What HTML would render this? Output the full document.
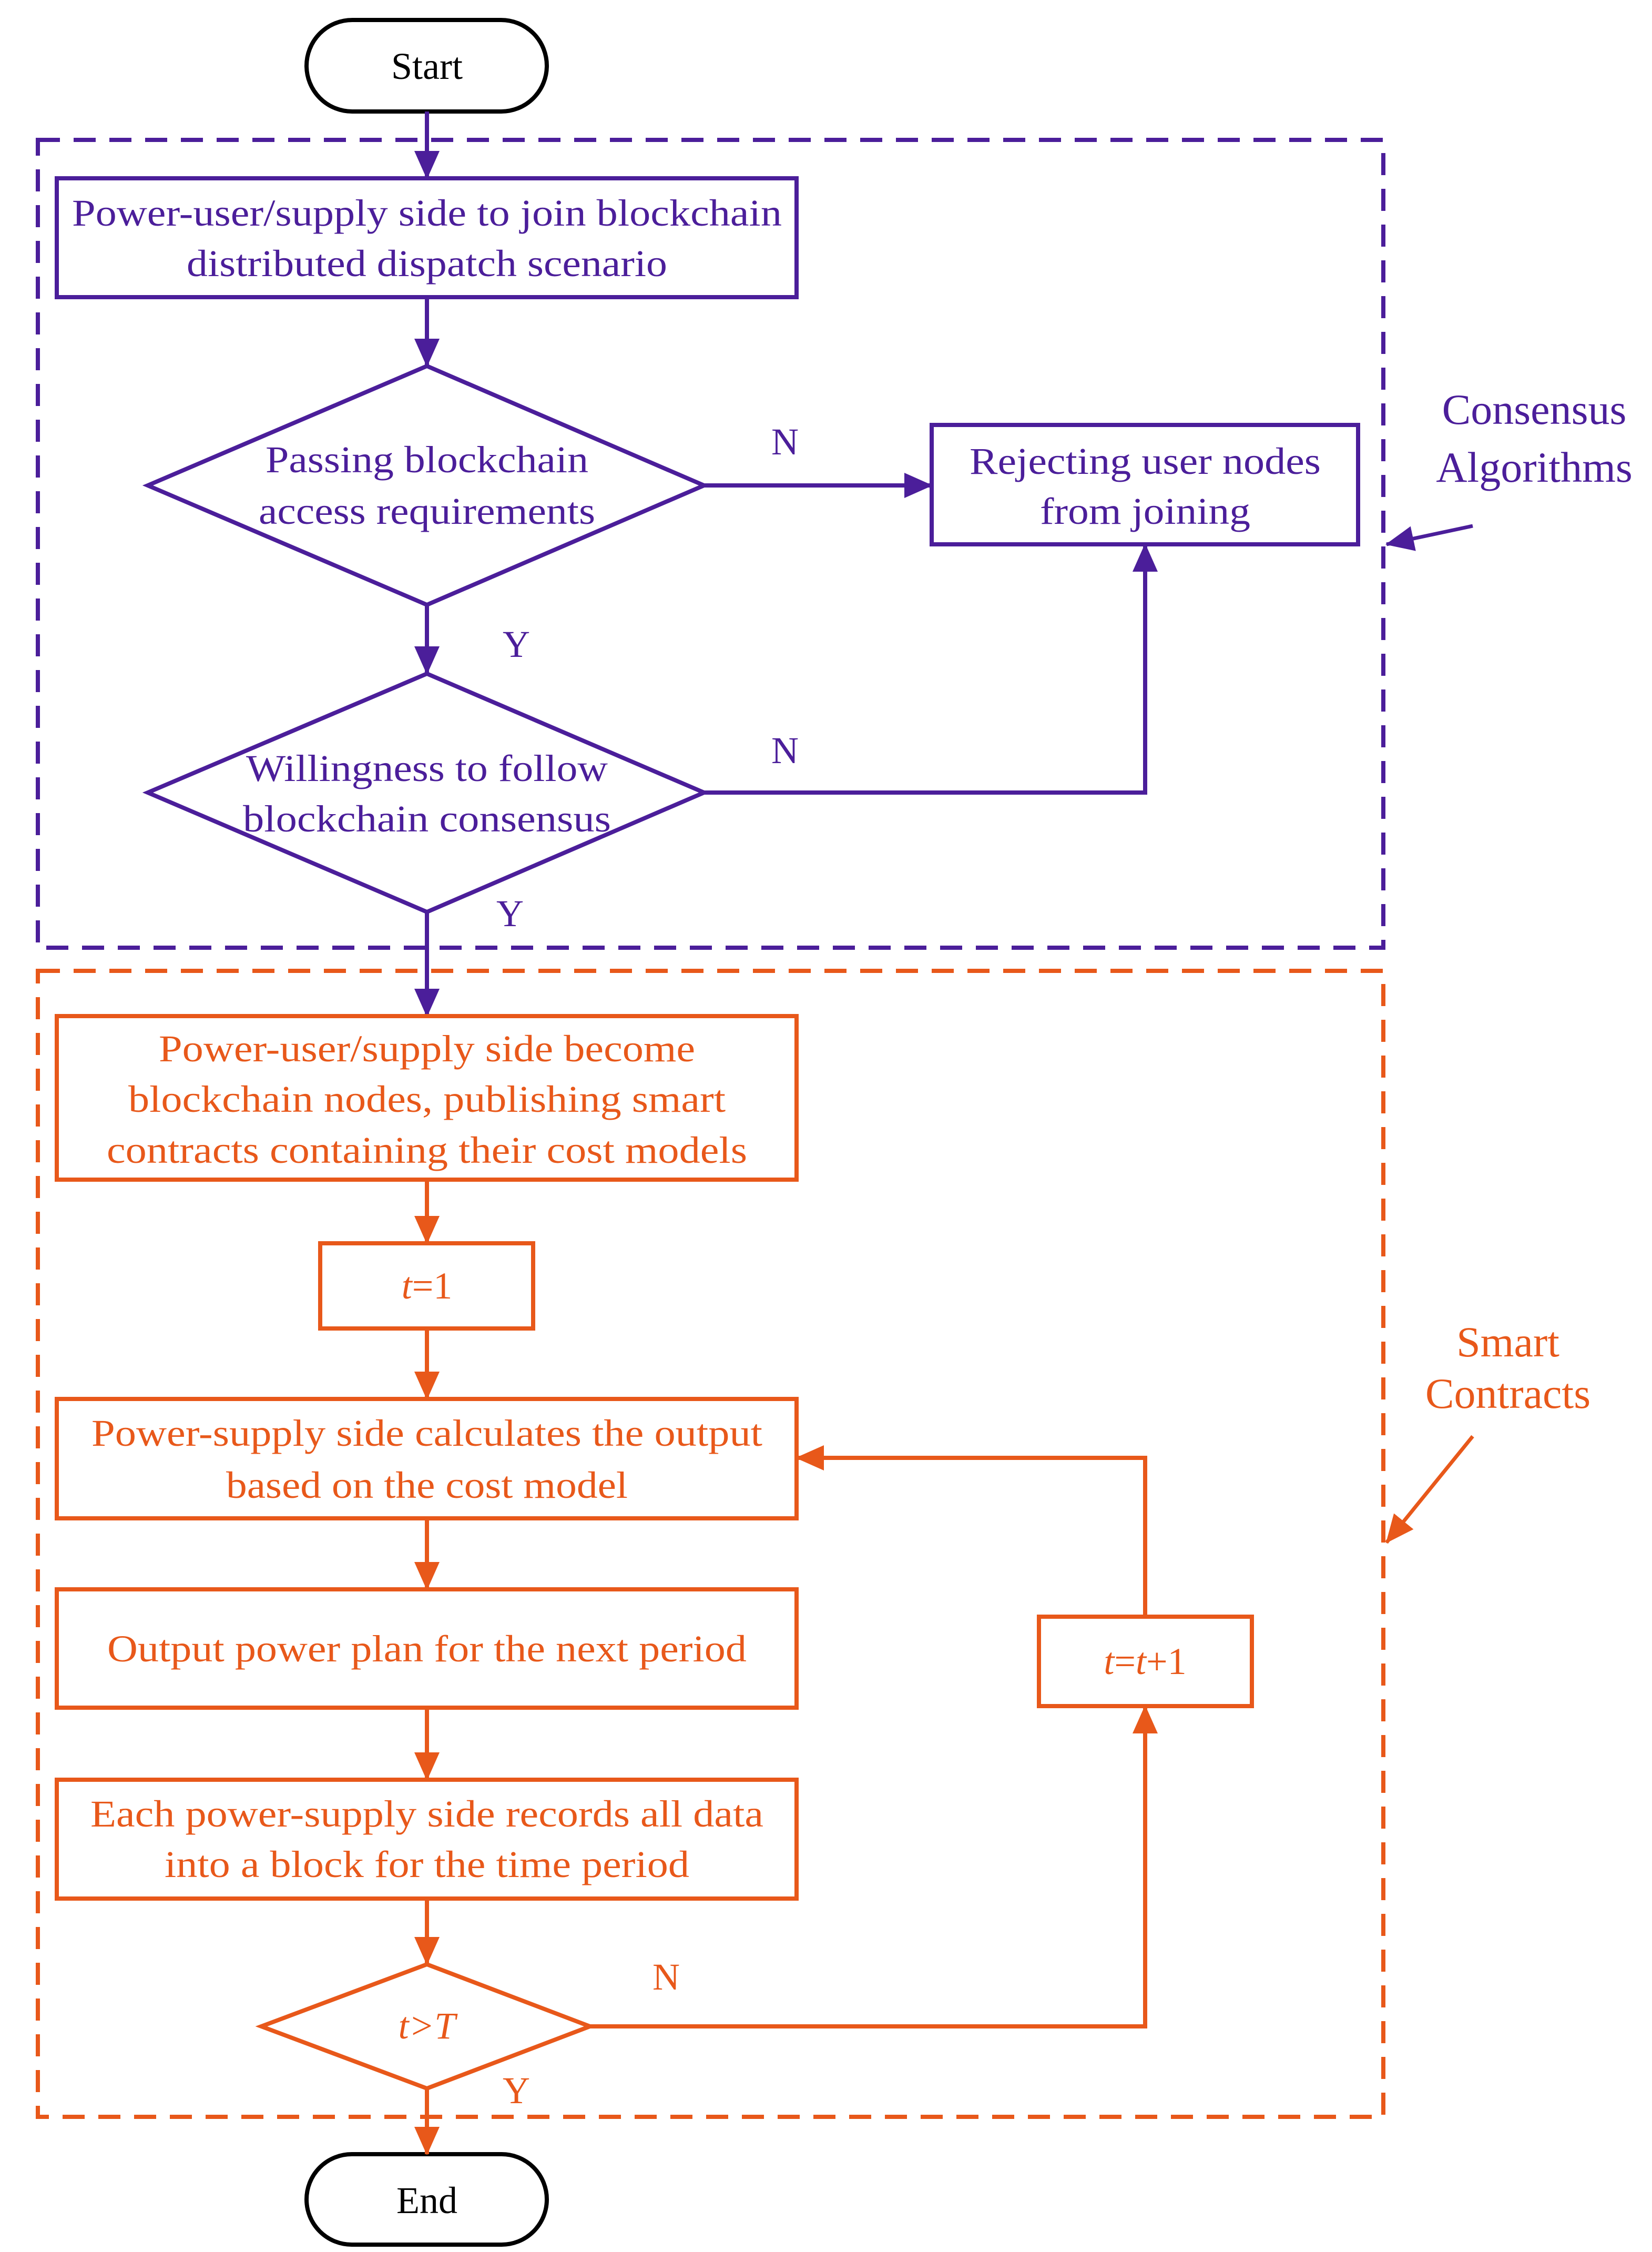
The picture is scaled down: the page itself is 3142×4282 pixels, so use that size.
<!DOCTYPE html>
<html><head><meta charset="utf-8"><style>html,body{margin:0;padding:0;background:#fff}svg{display:block}</style></head>
<body>
<svg width="3142" height="4282" viewBox="0 0 3142 4282" xmlns="http://www.w3.org/2000/svg" font-family="'Liberation Serif', serif" font-size="72">
<defs>
<marker id="ap" markerUnits="userSpaceOnUse" markerWidth="54" markerHeight="48" refX="52" refY="24" orient="auto"><path d="M0,0 L54,24 L0,48 Z" fill="#4B1E9A"/></marker>
<marker id="ao" markerUnits="userSpaceOnUse" markerWidth="54" markerHeight="48" refX="52" refY="24" orient="auto"><path d="M0,0 L54,24 L0,48 Z" fill="#E8581A"/></marker>
</defs>
<g fill="none" stroke-width="8">
<rect x="72" y="266" width="2559" height="1536" stroke="#4B1E9A" stroke-dasharray="42,26"/>
<rect x="72" y="1846" width="2559" height="2179" stroke="#E8581A" stroke-dasharray="42,26"/>
<rect x="583" y="38" width="457" height="174" rx="87" stroke="#000"/>
<rect x="583" y="4096" width="457" height="172" rx="86" stroke="#000"/>
<g stroke="#4B1E9A">
<rect x="108" y="339" width="1407" height="226"/>
<polygon points="281,923 812,696 1339,923 812,1150"/>
<rect x="1772" y="808" width="811" height="227"/>
<polygon points="281,1507 812,1281 1339,1507 812,1734"/>
<line x1="812" y1="212" x2="812" y2="339" marker-end="url(#ap)"/>
<line x1="812" y1="565" x2="812" y2="696" marker-end="url(#ap)"/>
<line x1="1339" y1="923" x2="1772" y2="923" marker-end="url(#ap)"/>
<line x1="812" y1="1150" x2="812" y2="1281" marker-end="url(#ap)"/>
<polyline points="1339,1507 2178,1507 2178,1035" marker-end="url(#ap)"/>
<line x1="812" y1="1734" x2="812" y2="1932" marker-end="url(#ap)"/>
<line x1="2801" y1="1000" x2="2637" y2="1035" stroke-width="7" marker-end="url(#ap)"/>
</g>
<g stroke="#E8581A">
<rect x="108" y="1932" width="1407" height="311"/>
<rect x="609" y="2364" width="405" height="162"/>
<rect x="108" y="2660" width="1407" height="227"/>
<rect x="108" y="3022" width="1407" height="225"/>
<rect x="108" y="3384" width="1407" height="226"/>
<polygon points="497,3853 812,3735 1122,3853 812,3971"/>
<rect x="1976" y="3074" width="405" height="170"/>
<line x1="812" y1="2243" x2="812" y2="2364" marker-end="url(#ao)"/>
<line x1="812" y1="2526" x2="812" y2="2660" marker-end="url(#ao)"/>
<line x1="812" y1="2887" x2="812" y2="3022" marker-end="url(#ao)"/>
<line x1="812" y1="3247" x2="812" y2="3384" marker-end="url(#ao)"/>
<line x1="812" y1="3610" x2="812" y2="3735" marker-end="url(#ao)"/>
<line x1="812" y1="3971" x2="812" y2="4096" marker-end="url(#ao)"/>
<polyline points="1122,3853 2178,3853 2178,3244" marker-end="url(#ao)"/>
<polyline points="2178,3074 2178,2772 1515,2772" marker-end="url(#ao)"/>
<line x1="2801" y1="2731" x2="2637" y2="2933" stroke-width="7" marker-end="url(#ao)"/>
</g>
</g>
<g text-anchor="middle" stroke="none">
<text x="812" y="150" fill="#000">Start</text>
<text x="812" y="4208" fill="#000">End</text>
<g fill="#4B1E9A">
<text x="812" y="429" textLength="1350" lengthAdjust="spacingAndGlyphs">Power-user/supply side to join blockchain</text>
<text x="812" y="525" textLength="914" lengthAdjust="spacingAndGlyphs">distributed dispatch scenario</text>
<text x="812" y="898" textLength="614" lengthAdjust="spacingAndGlyphs">Passing blockchain</text>
<text x="812" y="996" textLength="640" lengthAdjust="spacingAndGlyphs">access requirements</text>
<text x="2178" y="901" textLength="668" lengthAdjust="spacingAndGlyphs">Rejecting user nodes</text>
<text x="2178" y="996" textLength="400" lengthAdjust="spacingAndGlyphs">from joining</text>
<text x="812" y="1485" textLength="688" lengthAdjust="spacingAndGlyphs">Willingness to follow</text>
<text x="812" y="1581" textLength="700" lengthAdjust="spacingAndGlyphs">blockchain consensus</text>
<text x="1493" y="864">N</text>
<text x="1493" y="1451">N</text>
<text x="982" y="1249">Y</text>
<text x="970" y="1761">Y</text>
<text x="2918" y="806" font-size="82">Consensus</text>
<text x="2918" y="916" font-size="82">Algorithms</text>
</g>
<g fill="#E8581A">
<text x="812" y="2018" textLength="1020" lengthAdjust="spacingAndGlyphs">Power-user/supply side become</text>
<text x="812" y="2114" textLength="1136" lengthAdjust="spacingAndGlyphs">blockchain nodes, publishing smart</text>
<text x="812" y="2211" textLength="1218" lengthAdjust="spacingAndGlyphs">contracts containing their cost models</text>
<text x="812" y="2469"><tspan font-style="italic">t</tspan>=1</text>
<text x="812" y="2749" textLength="1276" lengthAdjust="spacingAndGlyphs">Power-supply side calculates the output</text>
<text x="812" y="2848" textLength="764" lengthAdjust="spacingAndGlyphs">based on the cost model</text>
<text x="812" y="3159" textLength="1216" lengthAdjust="spacingAndGlyphs">Output power plan for the next period</text>
<text x="812" y="3473" textLength="1280" lengthAdjust="spacingAndGlyphs">Each power-supply side records all data</text>
<text x="812" y="3569" textLength="998" lengthAdjust="spacingAndGlyphs">into a block for the time period</text>
<text x="812" y="3876" font-style="italic">t&gt;T</text>
<text x="2178" y="3183"><tspan font-style="italic">t</tspan>=<tspan font-style="italic">t</tspan>+1</text>
<text x="1267" y="3783">N</text>
<text x="982" y="3999">Y</text>
<text x="2868" y="2579" font-size="82">Smart</text>
<text x="2868" y="2677" font-size="82">Contracts</text>
</g>
</g>
</svg>
</body></html>
